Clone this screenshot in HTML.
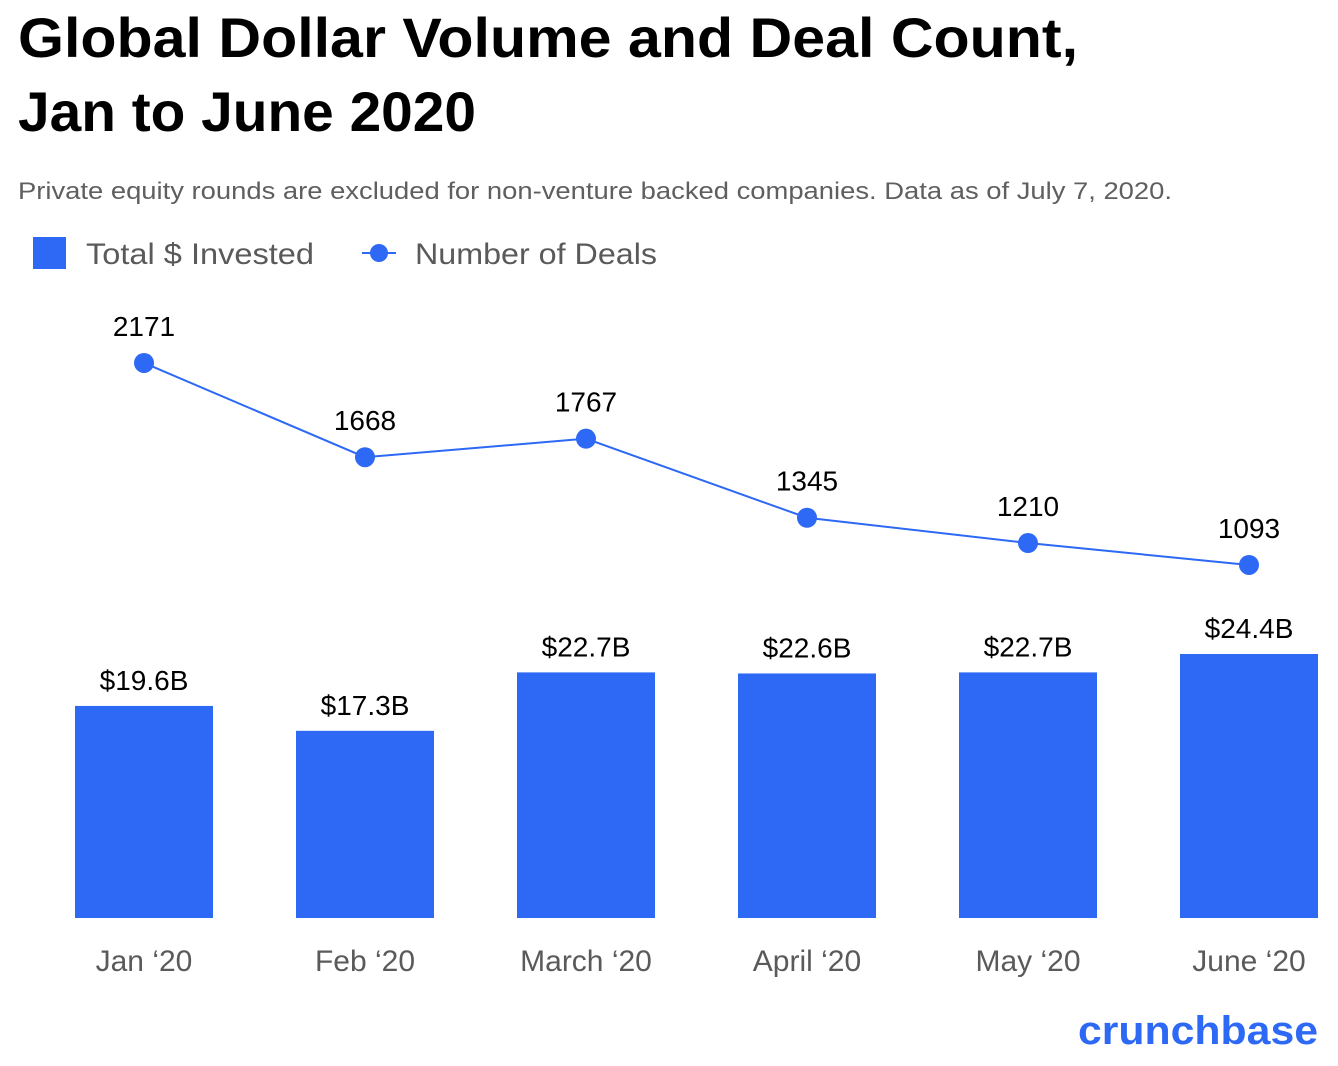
<!DOCTYPE html>
<html><head><meta charset="utf-8"><style>
html,body{margin:0;padding:0;background:#fff;}
svg{display:block;font-family:"Liberation Sans",sans-serif;}
</style></head><body>
<svg id="chart" width="1338" height="1066" viewBox="0 0 1338 1066">
<text x="18" y="57" font-size="56" font-weight="bold" fill="#000" textLength="1060" lengthAdjust="spacingAndGlyphs">Global Dollar Volume and Deal Count,</text>
<text x="18" y="131" font-size="56" font-weight="bold" fill="#000" textLength="458" lengthAdjust="spacingAndGlyphs">Jan to June 2020</text>
<text x="18" y="199" font-size="24" fill="#5f5f5f" textLength="1154" lengthAdjust="spacingAndGlyphs">Private equity rounds are excluded for non-venture backed companies. Data as of July 7, 2020.</text>
<g>
<rect x="33" y="237" width="33" height="32" fill="#2d69f5"/>
<text x="86" y="264" font-size="30" fill="#5a5a5a" textLength="228" lengthAdjust="spacingAndGlyphs">Total $ Invested</text>
<line x1="362" y1="253" x2="396" y2="253" stroke="#2d69f5" stroke-width="2"/>
<circle cx="379" cy="253" r="9" fill="#2d69f5"/>
<text x="415" y="264" font-size="30" fill="#5a5a5a" textLength="242" lengthAdjust="spacingAndGlyphs">Number of Deals</text>
</g>
<g id="plot"></g>
<text x="1318" y="1044" text-anchor="end" font-size="40" font-weight="bold" fill="#2d69f5" textLength="240" lengthAdjust="spacingAndGlyphs">crunchbase</text>
</svg>
<script>
const categories = ["Jan \u201820","Feb \u201820","March \u201820","April \u201820","May \u201820","June \u201820"];
const invested = [19.6,17.3,22.7,22.6,22.7,24.4];
const investedLabels = ["$19.6B","$17.3B","$22.7B","$22.6B","$22.7B","$24.4B"];
const deals = [2171,1668,1767,1345,1210,1093];

const NS="http://www.w3.org/2000/svg";
const plot=document.getElementById('plot');
function xPos(i){return 144+i*221;}
function yBar(v){return 918-v*10.82;}
function yLine(v){return 769.8-v*0.1874;}
function mk(tag,attrs,txt){const e=document.createElementNS(NS,tag);for(const k in attrs)e.setAttribute(k,attrs[k]);if(txt!=null)e.textContent=txt;plot.appendChild(e);return e;}

categories.forEach((c,i)=>{
  const b=mk('rect',{x:xPos(i)-69,y:yBar(invested[i]),width:138,height:918-yBar(invested[i]),fill:'#2d69f5'});
  
  
  const l=mk('text',{x:xPos(i),y:yBar(invested[i])-16,'text-anchor':'middle','font-size':'28',fill:'#000'},investedLabels[i]);
  
  
  const t=mk('text',{x:xPos(i),y:971,'text-anchor':'middle','font-size':'30',fill:'#5a5a5a'},c);
  
  
});
const pl=mk('polyline',{points:deals.map((d,i)=>xPos(i)+','+yLine(d)).join(' '),fill:'none',stroke:'#2d69f5','stroke-width':'2'});


deals.forEach((d,i)=>{
  const p=mk('circle',{cx:xPos(i),cy:yLine(d),r:10,fill:'#2d69f5'});
  
  
  const l=mk('text',{x:xPos(i),y:yLine(d)-27,'text-anchor':'middle','font-size':'28',fill:'#000'},String(d));
  
  
});
</script>
</body></html>
